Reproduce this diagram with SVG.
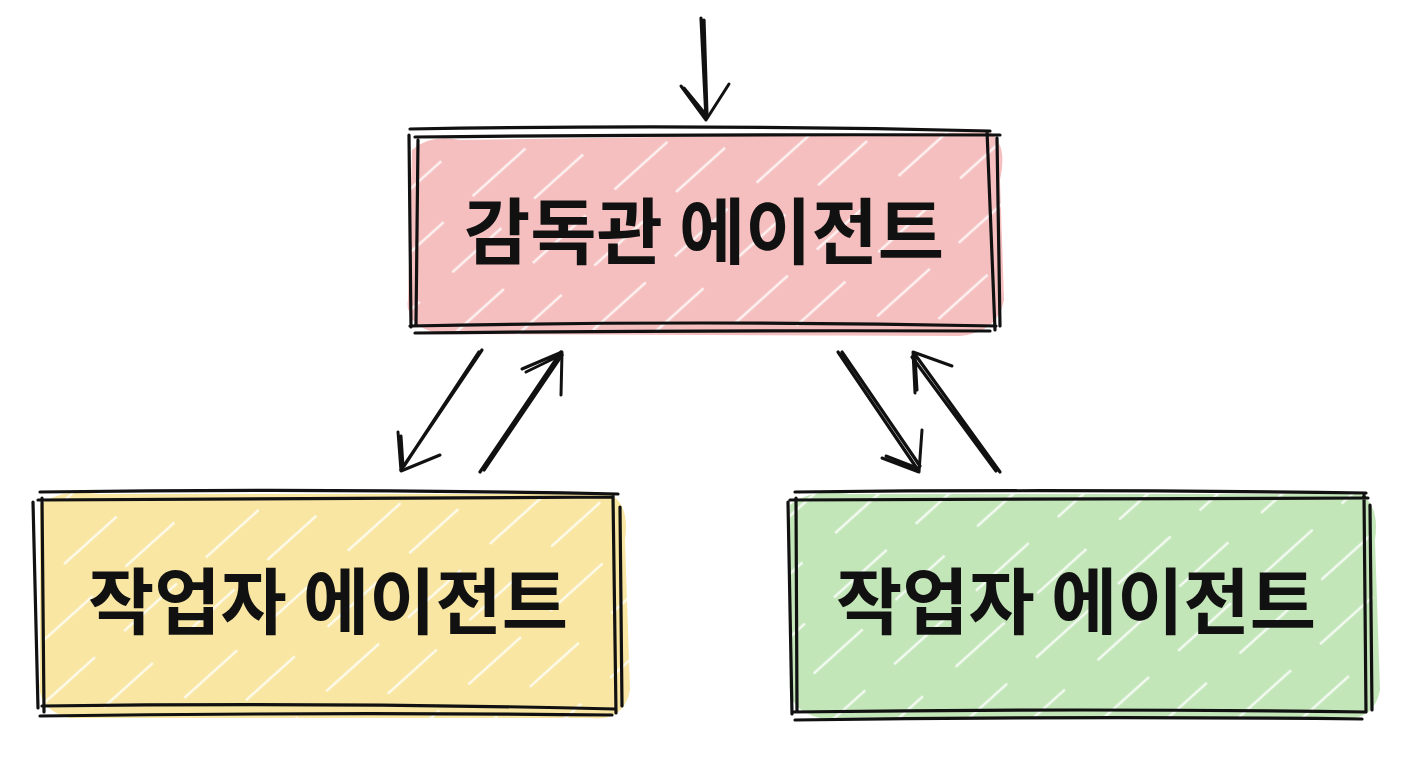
<svg xmlns="http://www.w3.org/2000/svg" width="1408" height="768" viewBox="0 0 1408 768">
<style>
.edge{fill:none;stroke:#111;stroke-width:3.2;stroke-linecap:round;stroke-linejoin:round}
.thin{fill:none;stroke:#111;stroke-width:3;stroke-linecap:round;stroke-linejoin:round}
.gap{stroke:#fff;stroke-width:2.5;stroke-linecap:round;opacity:.8}
.lbl{font-family:"Noto Sans CJK KR","Noto Sans",sans-serif;font-weight:700;font-size:72px;fill:#111;text-anchor:middle}
</style>
<defs>
<pattern id="gaps" width="110" height="90" patternUnits="userSpaceOnUse" patternTransform="rotate(-42)">
<line x1="0" y1="12" x2="70" y2="12" class="gap"/>
<line x1="45" y1="55" x2="110" y2="55" class="gap"/>
</pattern>
<clipPath id="cTop"><rect x="404" y="126" width="600" height="214"/></clipPath>
<clipPath id="cLeft"><rect x="30" y="485" width="605" height="240"/></clipPath>
<clipPath id="cRight"><rect x="780" y="485" width="605" height="240"/></clipPath>
</defs>
<rect width="1408" height="768" fill="#fff"/>

<g id="supervisor">
<path d="M412 150 Q430 134 460 140 L990 132 Q1008 145 1000 180 L1004 300 Q998 332 960 336 L440 334 Q404 326 408 300 Z" fill="#f6bfbf"/>
<rect x="404" y="126" width="600" height="214" fill="url(#gaps)" clip-path="url(#cTop)"/>
<path class="edge" d="M410 129 Q700 124 990 131 M415 137 Q700 134 1000 135 M409 135 L411 327 M418 140 L416 325 M987 131 L995 330 M997 138 L1000 326 M410 326 Q700 320 996 326 M415 333 Q700 330 990 331"/>
<text class="lbl" x="704" y="258">감독관 에이전트</text>
</g>

<g id="worker1">
<path d="M40 505 Q60 488 100 494 L610 494 Q630 505 625 540 L630 690 Q624 722 590 718 L70 718 Q36 710 40 680 Z" fill="#f8e6a2"/>
<rect x="30" y="485" width="605" height="240" fill="url(#gaps)" clip-path="url(#cLeft)"/>
<path class="edge" d="M40 492 Q330 488 618 494 M38 500 Q330 498 612 497 M33 502 L38 708 M42 498 L44 712 M613 495 L616 713 M620 507 L622 706 M42 706 Q330 702 615 709 M40 716 Q330 712 612 715"/>
<text class="lbl" x="328" y="628">작업자 에이전트</text>
</g>

<g id="worker2">
<path d="M790 505 Q810 488 850 494 L1360 494 Q1380 505 1375 540 L1380 690 Q1374 722 1340 718 L820 718 Q786 710 790 680 Z" fill="#c3e6b9"/>
<rect x="780" y="485" width="605" height="240" fill="url(#gaps)" clip-path="url(#cRight)"/>
<path class="edge" d="M795 492 Q1080 489 1366 493 M790 500 Q1080 498 1368 498 M788 502 L792 714 M796 498 L797 712 M1364 494 L1366 712 M1370 505 L1372 710 M792 712 Q1080 708 1366 712 M795 720 Q1080 716 1362 719"/>
<text class="lbl" x="1076" y="628">작업자 에이전트</text>
</g>

<g id="connectors">
<path class="edge" d="M701 18 L706 118 M704 20 L707 116"/>
<path class="thin" d="M681 86 L706 120 L729 84 M684 88 L707 116"/>

<path class="edge" d="M482 350 L401 470 M479 352 L404 466"/>
<path class="thin" d="M398 432 L401 471 L440 455 M401 436 L403 466"/>

<path class="edge" d="M480 472 L561 352 M484 470 L562 355"/>
<path class="thin" d="M522 369 L562 352 L561 395 M526 372 L559 356"/>

<path class="edge" d="M838 352 L918 470 M842 352 L920 466"/>
<path class="thin" d="M882 458 L919 472 L922 430 M886 456 L917 468"/>

<path class="edge" d="M1000 472 L914 353 M996 471 L912 357"/>
<path class="thin" d="M915 393 L913 352 L952 366 M917 390 L915 356"/>
</g>
</svg>
